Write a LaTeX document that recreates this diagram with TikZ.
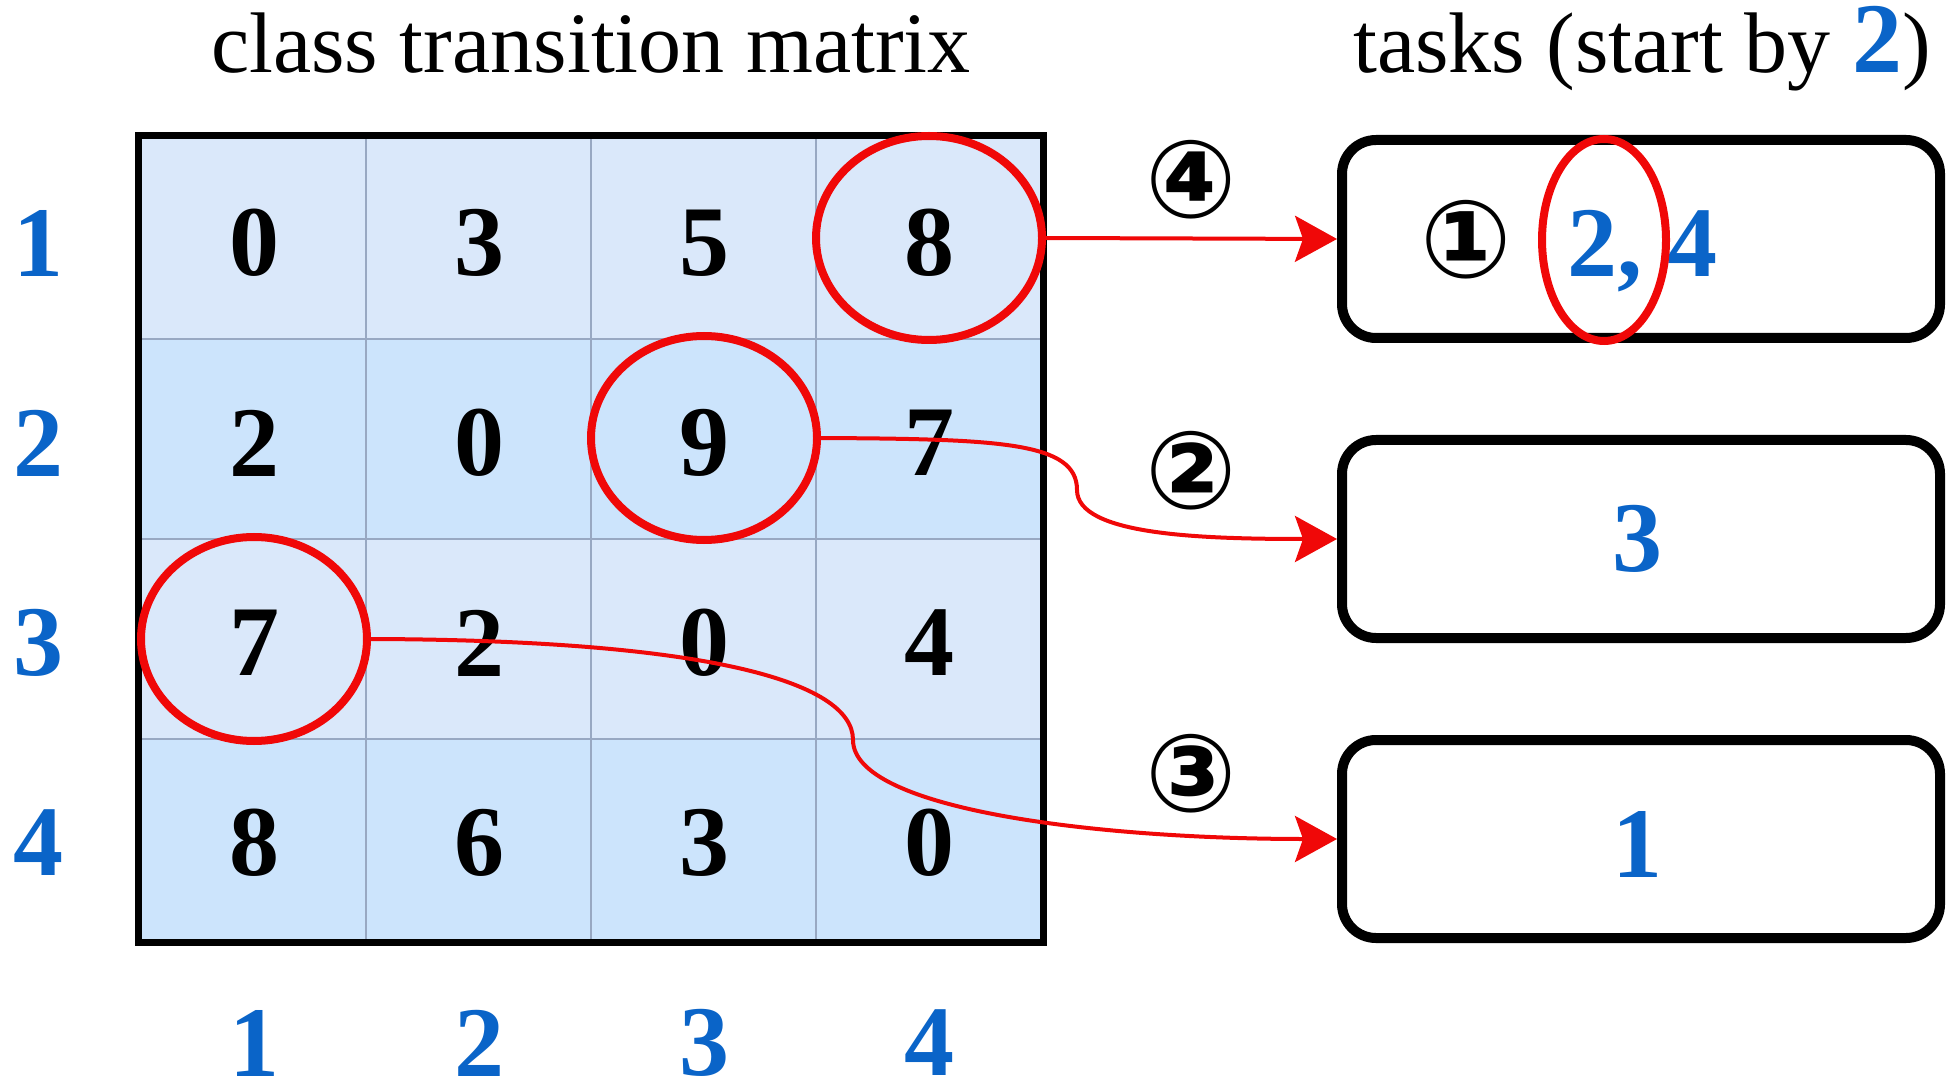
\documentclass[tikz,border=0pt]{standalone}
\usepackage{fontspec}
\setmainfont{Liberation Serif}
\newfontfamily\circfont{DejaVu Sans}
\usetikzlibrary{shapes.geometric,arrows.meta}
\definecolor{lblue}{RGB}{218,232,250}
\definecolor{mblue}{RGB}{204,228,252}
\definecolor{gridc}{RGB}{152,168,194}
\definecolor{nblue}{RGB}{10,100,200}
\definecolor{ared}{RGB}{240,8,8}
\begin{document}
\begin{tikzpicture}[x=0.5pt,y=-0.5pt,
  num/.style={font=\fontsize{50}{50}\selectfont\bfseries, inner sep=0pt},
  lab/.style={num, text=nblue},
  ring/.style={draw=ared, line width=4pt, ellipse, minimum width=113pt, minimum height=102pt, inner sep=0pt},
  taskbox/.style={draw=black, line width=5pt, rounded corners=17pt, minimum width=299pt, minimum height=99pt, inner sep=0pt},
  conn/.style={draw=ared, line width=2pt, -{Stealth[length=21pt,width=23pt,inset=4pt]}},
  circ/.style={font=\circfont\bfseries\fontsize{54}{54}\selectfont, inner sep=0pt},
  ttl/.style={font=\fontsize{43}{43}\selectfont, anchor=base, inner sep=0pt}]
\useasboundingbox (0,0) rectangle (1952,1090);
\fill[white] (0,0) rectangle (1952,1090);
% titles
\node[ttl] (t1) at (591,73) {class transition matrix};
\node[ttl] (t2) at (1642,73) {tasks (start by \textcolor{nblue}{\fontsize{50}{50}\selectfont\bfseries 2})};
% matrix cells
\fill[lblue] (138,136) rectangle (1043,339);
\fill[mblue] (138,339) rectangle (1043,539);
\fill[lblue] (138,539) rectangle (1043,739);
\fill[mblue] (138,739) rectangle (1043,942);
\foreach \x in {366,591,816} \draw[gridc, line width=0.8pt] (\x,136) -- (\x,942);
\foreach \y in {339,539,739} \draw[gridc, line width=0.8pt] (138,\y) -- (1043,\y);
\draw[black, line width=3.5pt] (138,136) rectangle (1043,942);
% numbers
\node[num] (c11) at (254,243) {0};
\node[num] (c12) at (479,243) {3};
\node[num] (c13) at (704,243) {5};
\node[num] (c14) at (929,243) {8};
\node[num] (c21) at (254,443) {2};
\node[num] (c22) at (479,443) {0};
\node[num] (c23) at (704,443) {9};
\node[num] (c24) at (929,443) {7};
\node[num] (c31) at (254,643) {7};
\node[num] (c32) at (479,643) {2};
\node[num] (c33) at (704,643) {0};
\node[num] (c34) at (929,643) {4};
\node[num] (c41) at (254,843) {8};
\node[num] (c42) at (479,843) {6};
\node[num] (c43) at (704,843) {3};
\node[num] (c44) at (929,843) {0};
% row labels
\node[lab] (r1) at (38,243) {1};
\node[lab] (r2) at (38,443) {2};
\node[lab] (r3) at (38,643) {3};
\node[lab] (r4) at (38,843) {4};
% column labels
\node[lab] (k1) at (254,1043) {1};
\node[lab] (k2) at (479,1043) {2};
\node[lab] (k3) at (704,1043) {3};
\node[lab] (k4) at (929,1043) {4};
% task boxes
\node[taskbox] (b1) at (1641,239) {};
\node[taskbox] (b2) at (1641,539) {};
\node[taskbox] (b3) at (1641,839) {};
\node[circ] (s1) at (1466,240) {①};
\node[num, text=nblue, anchor=base] (v1) at (1642,277) {2, 4};
\node[lab] (v2) at (1637,539) {3};
\node[lab] (v3) at (1637,844) {1};
% rings
\node[ring] (e14) at (929,238) {};
\node[ring] (e23) at (704,438) {};
\node[ring] (e31) at (254,639) {};
\node[ring, minimum width=62pt, minimum height=101pt] (e2) at (1604,240) {};
% step labels
\node[circ] (s4) at (1191,180) {④};
\node[circ] (s2) at (1191,471) {②};
\node[circ] (s3) at (1191,774) {③};
% connectors
\draw[conn] (e14.east) -- (b1.west);
\draw[conn] (e23.east) .. controls (1000,439) and (1077,442) .. (1077,490) .. controls (1077,535) and (1200,539) .. (b2.west);
\draw[conn] (e31.east) .. controls (700,640) and (853,680) .. (853,740) .. controls (853,810) and (1100,839) .. (b3.west);
\end{tikzpicture}
\end{document}
